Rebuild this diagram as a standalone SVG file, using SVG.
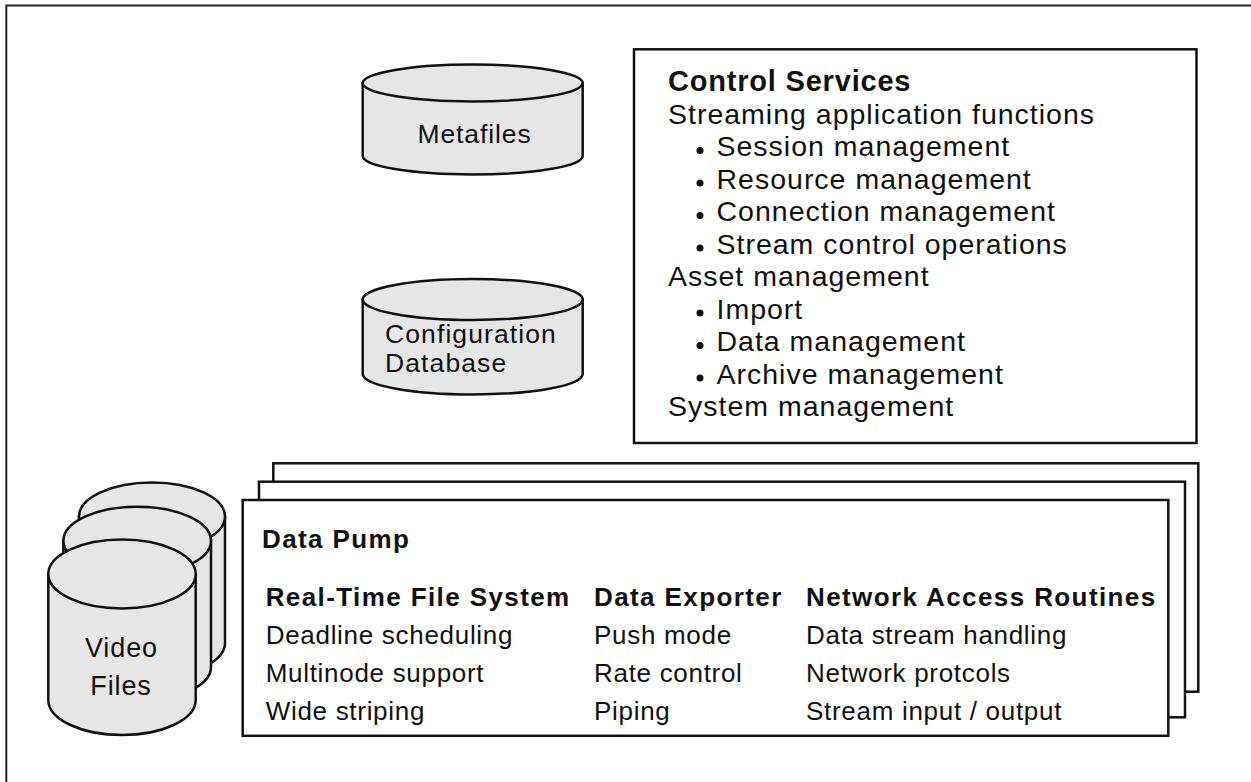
<svg xmlns="http://www.w3.org/2000/svg" width="1251" height="782" viewBox="0 0 1251 782">
<style>
  .box { fill: #fff; stroke: #111; stroke-width: 2.5; }
  .cyl { fill: #e6e6e6; stroke: #111; stroke-width: 2.5; }
  text { font-family: "Liberation Sans", Arial, sans-serif; fill: #111; }
  .db { font-size: 27px; letter-spacing: 0.9px; }
  .cs { font-size: 28.5px; letter-spacing: 1px; }
  .cst { font-size: 29px; font-weight: bold; letter-spacing: 0.8px; }
  .dp { font-size: 26px; letter-spacing: 0.7px; }
  .dpb { font-size: 26px; font-weight: bold; letter-spacing: 1.4px; }
  .dot { fill: #111; }
</style>
<rect width="1251" height="782" fill="#fff"/>
<g id="frame">
  <rect x="6.3" y="5.5" width="1270" height="800" fill="none" stroke="#222" stroke-width="2"/>
</g>
<g id="connectors"/>
<g id="metafiles">
  <path class="cyl" d="M362.7,83 V156 A110,18.5 0 0 0 582.7,156 V83 Z"/>
  <ellipse class="cyl" cx="472.7" cy="83" rx="110" ry="18.5"/>
  <text class="db" x="474.5" y="143" text-anchor="middle" style="font-size:26.5px">Metafiles</text>
</g>
<g id="config-db">
  <path class="cyl" d="M362.7,299.5 V374 A110,20.5 0 0 0 582.7,374 V299.5 Z"/>
  <ellipse class="cyl" cx="472.7" cy="299.5" rx="110" ry="20.5"/>
  <text class="db" x="385" y="342.5" style="font-size:26.5px;letter-spacing:1.1px">Configuration</text>
  <text class="db" x="385" y="372" style="font-size:26.5px;letter-spacing:1.1px">Database</text>
</g>
<g id="control-services">
  <rect class="box" x="634" y="49.3" width="562.5" height="393.7"/>
  <text class="cst" x="668" y="91">Control Services</text>
  <text class="cs" x="668" y="124">Streaming application functions</text>
  <circle class="dot" cx="700" cy="150.5" r="3.5"/>
  <text class="cs" x="716.5" y="156">Session management</text>
  <circle class="dot" cx="700" cy="183" r="3.5"/>
  <text class="cs" x="716.5" y="188.5">Resource management</text>
  <circle class="dot" cx="700" cy="215.5" r="3.5"/>
  <text class="cs" x="716.5" y="221">Connection management</text>
  <circle class="dot" cx="700" cy="248" r="3.5"/>
  <text class="cs" x="716.5" y="253.5">Stream control operations</text>
  <text class="cs" x="668" y="286">Asset management</text>
  <circle class="dot" cx="700" cy="313" r="3.5"/>
  <text class="cs" x="716.5" y="318.5">Import</text>
  <circle class="dot" cx="700" cy="345.5" r="3.5"/>
  <text class="cs" x="716.5" y="351">Data management</text>
  <circle class="dot" cx="700" cy="378" r="3.5"/>
  <text class="cs" x="716.5" y="383.5">Archive management</text>
  <text class="cs" x="668" y="416">System management</text>
</g>
<g id="video-files">
  <path class="cyl" d="M79,516.5 V643 A73,34 0 0 0 225,643 V516.5 Z"/>
  <ellipse class="cyl" cx="152" cy="516.5" rx="73" ry="34"/>
  <path class="cyl" d="M63.3,540.7 V667 A73.8,34 0 0 0 211,667 V540.7 Z"/>
  <ellipse class="cyl" cx="137.2" cy="540.7" rx="73.8" ry="34"/>
  <path class="cyl" d="M48.3,574 V700 A73.7,35 0 0 0 195.7,700 V574 Z"/>
  <ellipse class="cyl" cx="122" cy="574" rx="73.7" ry="34.5"/>
  <text class="db" x="121.5" y="657" text-anchor="middle">Video</text>
  <text class="db" x="121" y="695" text-anchor="middle">Files</text>
</g>
<g id="data-pump">
  <rect class="box" x="273.3" y="463.3" width="925" height="228.4"/>
  <rect class="box" x="259" y="481.7" width="926" height="235.6"/>
  <rect class="box" x="242.7" y="500" width="925.6" height="235.8"/>
  <text class="dpb" x="262" y="548.3">Data Pump</text>
  <text class="dpb" x="265.7" y="605.5">Real-Time File System</text>
  <text class="dp" x="265.7" y="643.5">Deadline scheduling</text>
  <text class="dp" x="265.7" y="681.5">Multinode support</text>
  <text class="dp" x="265.7" y="719.5">Wide striping</text>
  <text class="dpb" x="594" y="605.5">Data Exporter</text>
  <text class="dp" x="594" y="643.5">Push mode</text>
  <text class="dp" x="594" y="681.5">Rate control</text>
  <text class="dp" x="594" y="719.5">Piping</text>
  <text class="dpb" x="806" y="605.5">Network Access Routines</text>
  <text class="dp" x="806" y="643.5">Data stream handling</text>
  <text class="dp" x="806" y="681.5">Network protcols</text>
  <text class="dp" x="806" y="719.5">Stream input / output</text>
</g>
</svg>
